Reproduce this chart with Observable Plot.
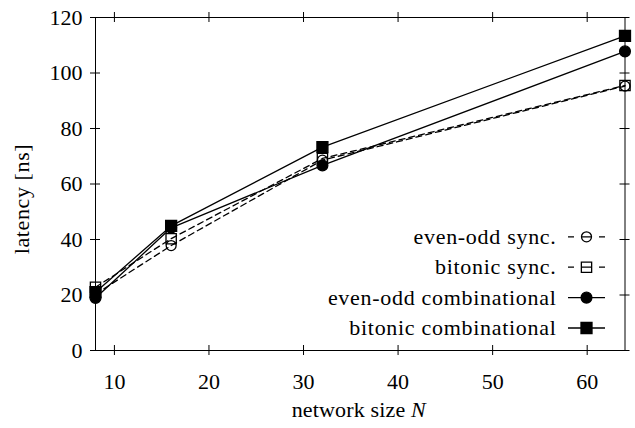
<!DOCTYPE html>
<html>
<head>
<meta charset="utf-8">
<script src="https://cdn.jsdelivr.net/npm/d3@7"></script>
<script src="https://cdn.jsdelivr.net/npm/@observablehq/plot@0.6"></script>
<style>
  body { margin: 0; background: #fff; }
  svg { display: block; }
</style>
</head>
<body>
<div id="chart"></div>
<script>
// Network sizes (x) and measured latency in ns for each sorter design.
const sizes = [8, 16, 32, 64];
const evenOddSync = [20.3, 37.8, 68.6, 95.3];
const bitonicSync = [22.8, 40.3, 69.2, 95.5];
const evenOddComb = [18.9, 44.2, 66.7, 107.8];
const bitonicComb = [21.0, 44.9, 73.3, 113.4];

const seriesNames = ["even-odd sync.", "bitonic sync.", "even-odd combinational", "bitonic combinational"];
const xTicks = [10, 20, 30, 40, 50, 60];
const yTicks = [0, 20, 40, 60, 80, 100, 120];

const W = 635, H = 428;
const M = {top: 17, right: 10.5, bottom: 78, left: 95};
const plotW = W - M.left - M.right;
const plotH = H - M.top - M.bottom;
const FONT = "'Liberation Serif', 'Times New Roman', serif";
const FS = 22;

// Per-series styling: marker shape, fill and dash pattern.
const styles = [
  {symbol: "circle", r: 5.0, fill: "none", dash: "6,4"},
  {symbol: "square", r: 5.8, fill: "none", dash: "6,4"},
  {symbol: "circle", r: 5.4, fill: "black", dash: null},
  {symbol: "square", r: 6.2, fill: "black", dash: null}
];
const seriesValues = [evenOddSync, bitonicSync, evenOddComb, bitonicComb];

const series = seriesNames.map((name, k) => ({
  name,
  ...styles[k],
  rows: sizes.map((n, i) => ({series: name, n, latency: seriesValues[k][i]}))
}));

const seriesMarks = series.flatMap(s => [
  Plot.line(s.rows, {x: "n", y: "latency", stroke: "black", strokeWidth: 1.3,
    strokeDasharray: s.dash ?? undefined}),
  Plot.dot(s.rows, {x: "n", y: "latency", symbol: () => s.symbol, r: s.r,
    fill: s.fill, stroke: "black", strokeWidth: 1.3})
]);

const chart = Plot.plot({
  width: W,
  height: H,
  marginTop: M.top,
  marginRight: M.right,
  marginBottom: M.bottom,
  marginLeft: M.left,
  style: {fontFamily: FONT, fontSize: FS + "px", color: "black", background: "white"},
  x: {domain: [8, 64]},
  y: {domain: [0, 120]},
  marks: [
    // tick labels
    Plot.axisX({ticks: xTicks, tickSize: 0, tickPadding: 23, label: null, tickFormat: d => d}),
    Plot.axisY({ticks: yTicks, tickSize: 0, tickPadding: 13, label: null, tickFormat: d => d}),
    // tick marks centred on all four sides of the box
    Plot.ruleX(xTicks, {x: d => d, insetTop: plotH - 5, insetBottom: -5, stroke: "black"}),
    Plot.ruleX(xTicks, {x: d => d, insetTop: -5, insetBottom: plotH - 5, stroke: "black"}),
    Plot.ruleY(yTicks, {y: d => d, insetLeft: -5, insetRight: plotW - 5, stroke: "black"}),
    Plot.ruleY(yTicks, {y: d => d, insetLeft: plotW - 5, insetRight: -5, stroke: "black"}),
    ...seriesMarks,
    Plot.frame({stroke: "black", strokeWidth: 1})
  ]
});

document.getElementById("chart").appendChild(chart);

const svg = d3.select(chart);
const frameRight = W - M.right;
const frameBottom = H - M.bottom;

// Axis titles
const xl = svg.append("text")
  .attr("x", M.left + plotW / 2 - 1)
  .attr("y", 417)
  .attr("text-anchor", "middle")
  .attr("font-family", FONT)
  .attr("font-size", FS)
  .attr("letter-spacing", 0.15)
  .attr("fill", "black");
xl.append("tspan").text("network size ");
xl.append("tspan").attr("font-style", "italic").text("N");

svg.append("text")
  .attr("transform", "translate(28.5,199) rotate(-90)")
  .attr("text-anchor", "middle")
  .attr("font-family", FONT)
  .attr("font-size", FS)
  .attr("letter-spacing", 0.6)
  .attr("fill", "black")
  .text("latency [ns]");

// Legend in the lower right corner of the plot area
const legend = svg.append("g");
const rowStep = 30.4;
series.forEach((s, k) => {
  const cy = frameBottom - 22 - (series.length - 1 - k) * rowStep;
  const g = legend.append("g");
  g.append("text")
    .attr("x", frameRight - 68)
    .attr("y", cy)
    .attr("dy", "0.32em")
    .attr("text-anchor", "end")
    .attr("font-family", FONT)
    .attr("font-size", FS)
    .attr("letter-spacing", 0.7)
    .attr("fill", "black")
    .text(s.name);
  g.append("line")
    .attr("x1", frameRight - 56.5)
    .attr("x2", frameRight - 19.5)
    .attr("y1", cy).attr("y2", cy)
    .attr("stroke", "black")
    .attr("stroke-width", 1.3)
    .attr("stroke-dasharray", s.dash ? "6,7.5,10,7.5,6" : null);
  const area = Math.PI * s.r * s.r;
  g.append("path")
    .attr("transform", `translate(${frameRight - 38},${cy})`)
    .attr("d", d3.symbol(s.symbol === "circle" ? d3.symbolCircle : d3.symbolSquare, area)())
    .attr("fill", s.fill)
    .attr("stroke", "black")
    .attr("stroke-width", 1.3);
});
</script>
</body>
</html>
